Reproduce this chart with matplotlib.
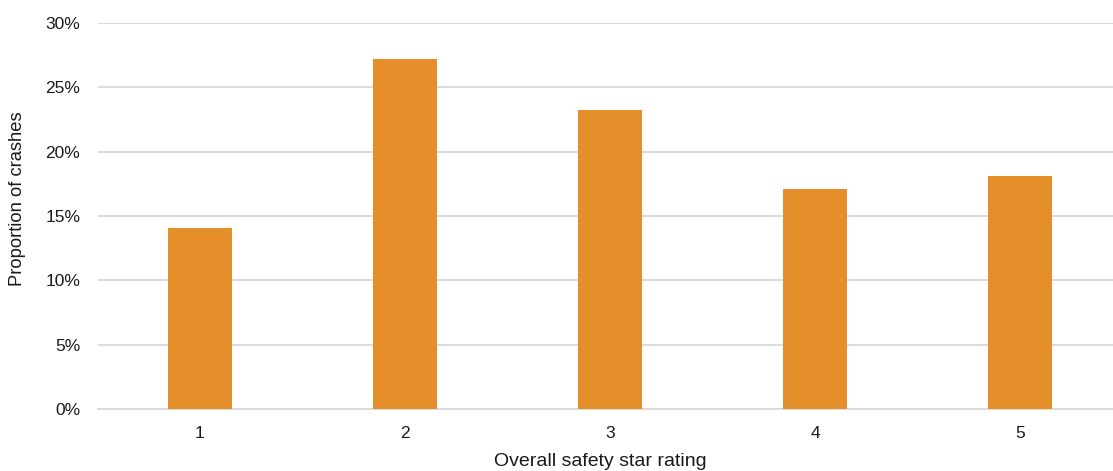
import matplotlib
matplotlib.use("Agg")
import matplotlib.pyplot as plt
from matplotlib.ticker import PercentFormatter

categories = ["1", "2", "3", "4", "5"]
values = [14.1, 27.2, 23.2, 17.1, 18.1]
yticks = [0, 5, 10, 15, 20, 25, 30]

plt.rcParams['font.family'] = ['Liberation Sans', 'DejaVu Sans']

W, H = 1113, 471
fig = plt.figure(figsize=(W / 100, H / 100), dpi=100)
left, right = 97.5, 1122.5
bottom, top = 409.3, 22.7
ax = fig.add_axes([left / W, (H - bottom) / H, (right - left) / W, (bottom - top) / H])

x = list(range(len(categories)))
ax.bar(x, values, width=0.312, color="#E48F2A", zorder=3)
ax.set_xlim(-0.5, len(categories) - 0.5)
ax.set_ylim(0, 30)
ax.set_yticks(yticks)
ax.yaxis.set_major_formatter(PercentFormatter(decimals=0))
ax.set_xticks(x)
ax.set_xticklabels(categories)
ax.grid(axis="y", color="#D9D9D9", linewidth=1.3, zorder=0)
for s in ["top", "right", "left"]:
    ax.spines[s].set_visible(False)
ax.spines["bottom"].set_color("#D9D9D9")
ax.spines["bottom"].set_linewidth(1.3)
ax.tick_params(axis="both", length=0, labelsize=12.5, colors="#1a1a1a")
ax.tick_params(axis="y", pad=12.5)
ax.tick_params(axis="x", pad=12)

fig.text(18 / W, 1 - 199 / H, "Proportion of crashes", rotation=90,
         ha="center", va="center", fontsize=13.2, color="#1a1a1a")
fig.text(600 / W, 1 - 462 / H, "Overall safety star rating",
         ha="center", va="center", fontsize=14, color="#1a1a1a")

fig.savefig("out.png", dpi=100)
